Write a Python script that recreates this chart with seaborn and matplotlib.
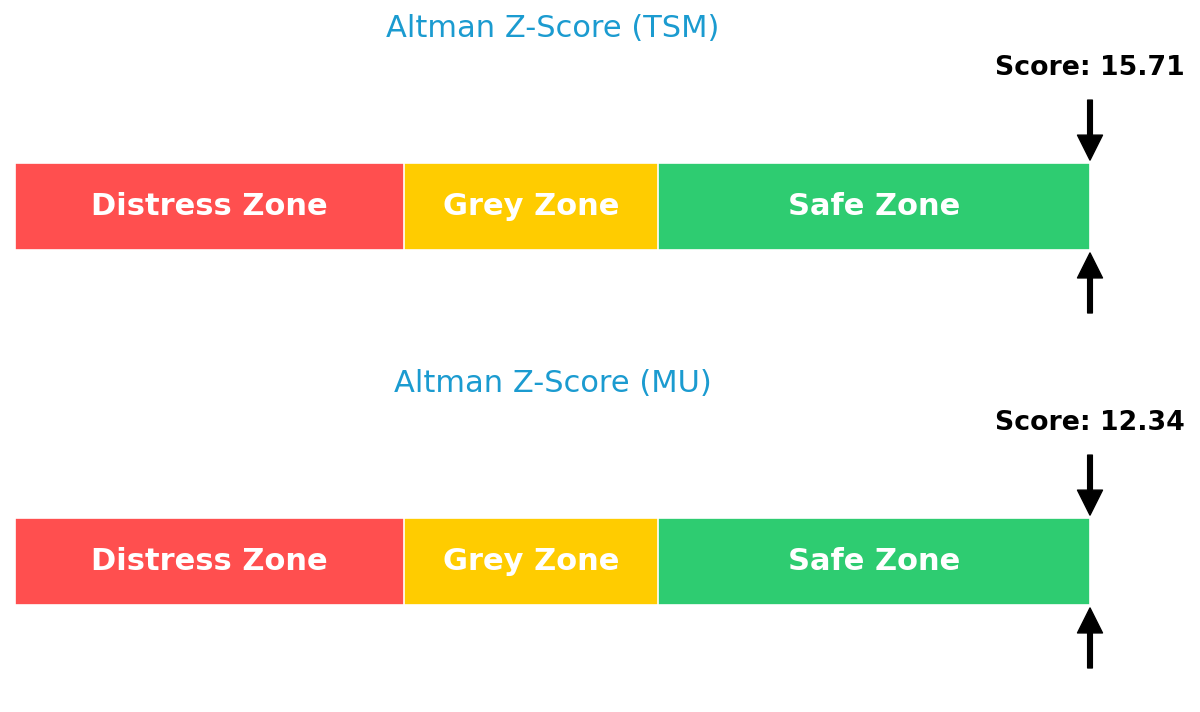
import matplotlib
matplotlib.use("Agg")
import matplotlib.pyplot as plt
import seaborn as sns
import pandas as pd

# ---- data ----
companies = ["TSM", "MU"]
scores = [15.71, 12.34]
zone_names = ["Distress Zone", "Grey Zone", "Safe Zone"]
zone_bounds = [0.0, 1.81, 2.99, 5.0]
zone_colors = ["#FF4F4F", "#FFCC00", "#2ECC71"]
title_color = "#1B9BD0"

sns.set_theme(style="white")
plt.rcParams["font.family"] = ["DejaVu Sans"]

fig = plt.figure(figsize=(12, 7.12), dpi=100)
W, H = 1200, 712

# axes placement in pixels (left, top, right, bottom)
panels_px = [(15, 45, 1090, 335), (15, 400, 1090, 690)]

bar_h = 0.6
for i, comp in enumerate(companies):
    l, t, r, b = panels_px[i]
    ax = fig.add_axes([l / W, 1 - b / H, (r - l) / W, (b - t) / H])
    # stacked zones drawn as overlapping cumulative bars (reverse order)
    for k in reversed(range(len(zone_names))):
        df = pd.DataFrame({"end": [zone_bounds[k + 1]], "row": [0]})
        sns.barplot(data=df, x="end", y="row", orient="h", color=zone_colors[k],
                    width=bar_h, edgecolor="white", linewidth=1.2, saturation=1,
                    native_scale=True, ax=ax)
    for k, name in enumerate(zone_names):
        cx = (zone_bounds[k] + zone_bounds[k + 1]) / 2
        ax.text(cx, 0, name, ha="center", va="center", color="white",
                fontsize=22, fontweight="bold")
    xmax = zone_bounds[-1]
    pos = min(scores[i], xmax)
    ax.set_xlim(zone_bounds[0], xmax)
    ax.set_ylim(-0.886, 1.114)
    ap = dict(facecolor="black", edgecolor="black", width=3.4, headwidth=18,
              headlength=18, shrink=0)
    ax.annotate("", xy=(pos, 0.32), xytext=(pos, 0.734), arrowprops=ap,
                annotation_clip=False)
    ax.annotate("", xy=(pos, -0.32), xytext=(pos, -0.734), arrowprops=ap,
                annotation_clip=False)
    ax.text(pos, 0.955, f"Score: {scores[i]:.2f}", ha="center", va="center",
            fontsize=19.3, fontweight="bold", color="black", clip_on=False)
    ax.set_title(f"Altman Z-Score ({comp})", color=title_color, fontsize=22, pad=6)
    ax.set_xlabel("")
    ax.set_ylabel("")
    ax.axis("off")

fig.savefig("out.png", dpi=100, facecolor="white")
